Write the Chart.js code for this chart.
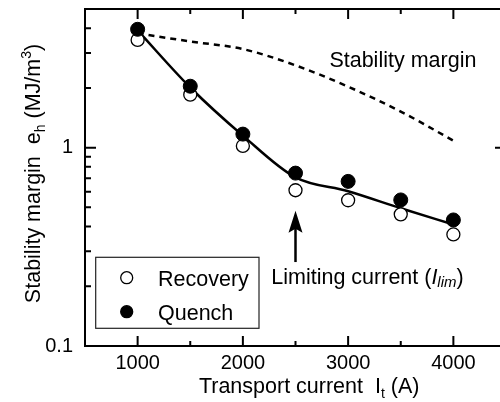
<!DOCTYPE html>
<html>
<head>
<meta charset="utf-8">
<script src="https://cdn.jsdelivr.net/npm/chart.js@4.4.1/dist/chart.umd.min.js"></script>
<style>
  html, body { margin: 0; padding: 0; background: #fff; overflow: hidden; }
  #wrap { width: 514px; height: 402px; }
</style>
</head>
<body>
<div id="wrap"><canvas id="marginChart" width="514" height="402"></canvas></div>
<script>
// Transport current (A) of each test point
const currents = [1000, 1500, 2000, 2500, 3000, 3500, 4000];
// Measured stability margin e_h (MJ/m^3)
const recovery = [3.49, 1.85, 1.02, 0.61, 0.543, 0.461, 0.365];
const quench = [3.95, 2.04, 1.17, 0.744, 0.676, 0.545, 0.432];
// Smoothed curve through the quench boundary
const fitCurve = [3.9, 2.01, 1.15, 0.708, 0.603, 0.495, 0.41];
// Calculated stability margin
const marginCurve = [3.77, 3.43, 3.14, 2.60, 2.03, 1.52, 1.085];

// Axis ticks
const xLabels = [1000, 2000, 3000, 4000];
const xMinor = [1500, 2500, 3500, 4500];
const yLabels = [0.1, 1];
const yMinor = [0.2, 0.3, 0.4, 0.5, 0.6, 0.7, 0.8, 0.9, 2, 3, 4];

const FONT = '"Liberation Sans", Arial, sans-serif';
const INK = '#000';

const toPoints = (ys) => currents.map((x, i) => ({ x: x, y: ys[i] }));

// Draw a run of text pieces (plain / sub / superscript) centred or left aligned
function drawRich(ctx, parts, x, y, align) {
    let total = 0;
    parts.forEach(p => {
        ctx.font = `${p.italic ? 'italic ' : ''}${p.size}px ${FONT}`;
        p.w = ctx.measureText(p.t).width;
        total += p.w;
    });
    let cx = align === 'center' ? x - total / 2 : x;
    ctx.textAlign = 'left';
    ctx.textBaseline = 'alphabetic';
    parts.forEach(p => {
        ctx.font = `${p.italic ? 'italic ' : ''}${p.size}px ${FONT}`;
        ctx.fillText(p.t, cx, y + (p.dy || 0));
        cx += p.w;
    });
}

// Closed frame with inward ticks on all four sides
const frameTicks = {
    id: 'frameTicks',
    afterDatasetsDraw(chart) {
        const { ctx, chartArea: ca, scales: { x, y } } = chart;
        ctx.save();
        ctx.strokeStyle = INK;
        ctx.lineWidth = 2;
        ctx.strokeRect(ca.left, ca.top, ca.right - ca.left, ca.bottom - ca.top);
        ctx.beginPath();
        const xt = (v, len) => {
            const px = x.getPixelForValue(v);
            ctx.moveTo(px, ca.bottom); ctx.lineTo(px, ca.bottom - len);
            ctx.moveTo(px, ca.top); ctx.lineTo(px, ca.top + len);
        };
        const yt = (v, len) => {
            const py = y.getPixelForValue(v);
            ctx.moveTo(ca.left, py); ctx.lineTo(ca.left + len, py);
            ctx.moveTo(ca.right, py); ctx.lineTo(ca.right - len, py);
        };
        xLabels.forEach(v => xt(v, 10));
        xMinor.forEach(v => xt(v, 5));
        yLabels.forEach(v => yt(v, 11));
        yMinor.forEach(v => yt(v, 6));
        ctx.stroke();
        ctx.restore();
    }
};

// Axis titles, in-plot labels, arrow and boxed legend
const annotations = {
    id: 'annotations',
    afterDraw(chart) {
        const { ctx, chartArea: ca, scales: { x, y } } = chart;
        ctx.save();
        ctx.fillStyle = INK;
        ctx.strokeStyle = INK;

        // x title
        drawRich(ctx, [
            { t: 'Transport current  I', size: 21.5 },
            { t: 't', size: 14, dy: 5 },
            { t: ' (A)', size: 21.5 }
        ], x.getPixelForValue(2630), 393, 'center');

        // y title, rotated
        ctx.save();
        ctx.translate(40, (ca.top + ca.bottom) / 2 - 4);
        ctx.rotate(-Math.PI / 2);
        drawRich(ctx, [
            { t: 'Stability margin  e', size: 21.5 },
            { t: 'h', size: 14, dy: 5 },
            { t: ' (MJ/m', size: 21.5 },
            { t: '3', size: 14, dy: -9 },
            { t: ')', size: 21.5 }
        ], 0, 0, 'center');
        ctx.restore();

        // curve label
        drawRich(ctx, [{ t: 'Stability margin', size: 21.5 }],
            x.getPixelForValue(2822), y.getPixelForValue(2.56), 'left');

        // limiting current label
        drawRich(ctx, [
            { t: 'Limiting current (', size: 21.5 },
            { t: 'I', size: 21.5, italic: true },
            { t: 'lim', size: 15, italic: true, dy: 3 },
            { t: ')', size: 21.5 }
        ], x.getPixelForValue(2270), y.getPixelForValue(0.205), 'left');

        // arrow pointing at the knee
        const ax = x.getPixelForValue(2500);
        const ay0 = y.getPixelForValue(0.265);
        const ay1 = y.getPixelForValue(0.48);
        ctx.lineWidth = 2.5;
        ctx.beginPath();
        ctx.moveTo(ax, ay0);
        ctx.lineTo(ax, ay1 + 12);
        ctx.stroke();
        ctx.beginPath();
        ctx.moveTo(ax, ay1);
        ctx.lineTo(ax - 7, ay1 + 22);
        ctx.lineTo(ax, ay1 + 18);
        ctx.lineTo(ax + 7, ay1 + 22);
        ctx.closePath();
        ctx.fill();

        // legend box
        const lx = ca.left + 10.7, ly = ca.bottom - 88.7;
        ctx.lineWidth = 1.2;
        ctx.strokeStyle = '#222';
        ctx.fillStyle = '#fff';
        ctx.fillRect(lx, ly, 163.3, 71);
        ctx.strokeRect(lx, ly, 163.3, 71);
        const entries = [chart.data.datasets[1], chart.data.datasets[0]];
        entries.forEach((ds, i) => {
            const my = ly + 20.4 + i * 34;
            ctx.beginPath();
            ctx.arc(lx + 31, my, 6, 0, Math.PI * 2);
            ctx.fillStyle = ds.pointBackgroundColor;
            ctx.fill();
            ctx.lineWidth = 1.3;
            ctx.strokeStyle = INK;
            ctx.stroke();
            ctx.fillStyle = INK;
            drawRich(ctx, [{ t: ds.label, size: 21.5 }], lx + 62.3, my + 8.5, 'left');
        });
        ctx.restore();
    }
};

new Chart(document.getElementById('marginChart'), {
    type: 'scatter',
    data: {
        datasets: [{
            label: 'Quench',
            data: toPoints(quench),
            pointRadius: 7,
            pointBackgroundColor: INK,
            pointBorderColor: INK,
            pointBorderWidth: 1,
            showLine: false
        }, {
            label: 'Recovery',
            data: toPoints(recovery),
            pointRadius: 6.5,
            pointBackgroundColor: '#fff',
            pointBorderColor: INK,
            pointBorderWidth: 1.3,
            showLine: false
        }, {
            label: 'fit',
            data: toPoints(fitCurve),
            showLine: true,
            pointRadius: 0,
            borderColor: INK,
            borderWidth: 2.5,
            cubicInterpolationMode: 'monotone'
        }, {
            label: 'margin',
            data: toPoints(marginCurve),
            showLine: true,
            pointRadius: 0,
            borderColor: INK,
            borderWidth: 2.5,
            borderDash: [6, 5],
            cubicInterpolationMode: 'monotone'
        }]
    },
    options: {
        responsive: false,
        animation: false,
        devicePixelRatio: 1,
        layout: { padding: { left: 0, top: 9, right: 1, bottom: 0 } },
        plugins: {
            legend: { display: false },
            tooltip: { enabled: false }
        },
        scales: {
            x: {
                type: 'linear',
                min: 500,
                max: 4500,
                grid: { display: false, drawTicks: false },
                border: { display: false },
                afterBuildTicks: (scale) => { scale.ticks = xLabels.map(v => ({ value: v })); },
                afterFit: (scale) => {
                    scale.height = 56;
                    scale.paddingLeft = 0;
                    scale.paddingRight = 0;
                },
                ticks: {
                    color: INK,
                    padding: 5,
                    font: { family: FONT, size: 20 },
                    callback: (v) => String(v)
                }
            },
            y: {
                type: 'logarithmic',
                min: 0.1,
                max: 5,
                grid: { display: false, drawTicks: false },
                border: { display: false },
                afterBuildTicks: (scale) => { scale.ticks = yLabels.map(v => ({ value: v })); },
                afterFit: (scale) => {
                    scale.width = 85;
                    scale.paddingTop = 0;
                    scale.paddingBottom = 0;
                },
                ticks: {
                    color: INK,
                    padding: 12,
                    font: { family: FONT, size: 20 },
                    callback: (v) => String(v)
                }
            }
        }
    },
    plugins: [frameTicks, annotations]
});
</script>
</body>
</html>
